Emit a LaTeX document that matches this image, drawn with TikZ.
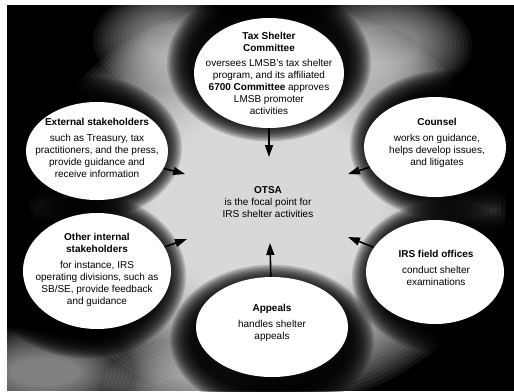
\documentclass[tikz,border=0pt]{standalone}
\usepackage{fontspec}
\setmainfont{Liberation Sans}
\usetikzlibrary{shapes.geometric,arrows.meta}
\begin{document}
\begin{tikzpicture}[x=1bp,y=-1bp,
  bubble/.style={ellipse, fill=white, draw=none, inner sep=0pt},
  txt/.style={align=center, inner sep=0pt, font=\fontsize{10bp}{12bp}\selectfont},
  arr/.style={-{Triangle[length=12bp,width=8bp]}, line width=1.6bp, black},
  glowring/.style={white, opacity=0.065},
  dimring/.style={white, opacity=0.05},
  haloring/.style={black, opacity=0.15}]
\useasboundingbox (0,0) rectangle (514,391);
\fill[white] (0,0) rectangle (514,391);
\begin{scope}
\clip (7,5) rectangle (514,391);
\fill[black] (7,5) rectangle (514,391);
% faint light areas near the frame
\foreach \cx/\cy/\rx/\ry in {165/40/20/16, 385/45/35/20, 45/372/35/14, 185/385/30/10}
  \foreach \k in {0,...,13}
    \fill[dimring] (\cx,\cy) ellipse [x radius=\rx+4*\k, y radius=\ry+2.6*\k];
% light centre
\foreach \k in {0,...,29}
  \fill[glowring] (268,205) ellipse [x radius=110+4.4*\k, y radius=90+3.9*\k];
% dark halos round the bubbles
\foreach \cx/\cy/\rx/\ry in {269/63/78/56, 86/148/72/50, 446/145/72/52, 86/276/76/60, 446/277/70/54, 272/339/78/52}
  \foreach \k in {1,...,16}
    \fill[haloring] (\cx,\cy) ellipse [x radius=\rx+1.5*\k, y radius=\ry+1.4*\k];
\end{scope}
% bubbles
\node[bubble, minimum width=150bp, minimum height=110bp] (tsc) at (269,73) {};
\node[bubble, minimum width=142bp, minimum height=98bp] (ext) at (97,151) {};
\node[bubble, minimum width=142bp, minimum height=100bp] (cou) at (435,147) {};
\node[bubble, minimum width=148bp, minimum height=116bp] (oth) at (97,271) {};
\node[bubble, minimum width=138bp, minimum height=104bp] (irs) at (435,272) {};
\node[bubble, minimum width=152bp, minimum height=100bp] (app) at (272,327) {};
% texts
\node[txt] (tsct) at (tsc) {\textbf{Tax Shelter}\\\textbf{Committee}\\[3bp]oversees LMSB's tax shelter\\program, and its affiliated\\\textbf{6700 Committee} approves\\LMSB promoter\\activities};
\node[txt] (extt) at (97,148) {\textbf{External stakeholders}\\[4bp]such as Treasury, tax\\practitioners, and the press,\\provide guidance and\\receive information};
\node[txt] (cout) at (437,143) {\textbf{Counsel}\\[4bp]works on guidance,\\helps develop issues,\\and litigates};
\node[txt] (otht) at (97,270) {\textbf{Other internal}\\\textbf{stakeholders}\\[4bp]for instance, IRS\\operating divisions, such as\\SB/SE, provide feedback\\and guidance};
\node[txt] (irst) at (436,268) {\textbf{IRS field offices}\\[4bp]conduct shelter\\examinations};
\node[txt] (appt) at (272,323) {\textbf{Appeals}\\[4bp]handles shelter\\appeals};
\node[txt] (otsa) at (268,202) {\textbf{OTSA}\\is the focal point for\\IRS shelter activities};
% arrow tips
\coordinate (ttsc) at (269,157);
\coordinate (text) at (185,174);
\coordinate (toth) at (187,239);
\coordinate (tcou) at (348,174);
\coordinate (tirs) at (348,237);
\coordinate (tapp) at (270,243);
\draw[arr] (tsc) -- (ttsc);
\draw[arr] (ext) -- (text);
\draw[arr] (oth) -- (toth);
\draw[arr] (cou) -- (tcou);
\draw[arr] (irs) -- (tirs);
\draw[arr] (app) -- (tapp);
\end{tikzpicture}
\end{document}
